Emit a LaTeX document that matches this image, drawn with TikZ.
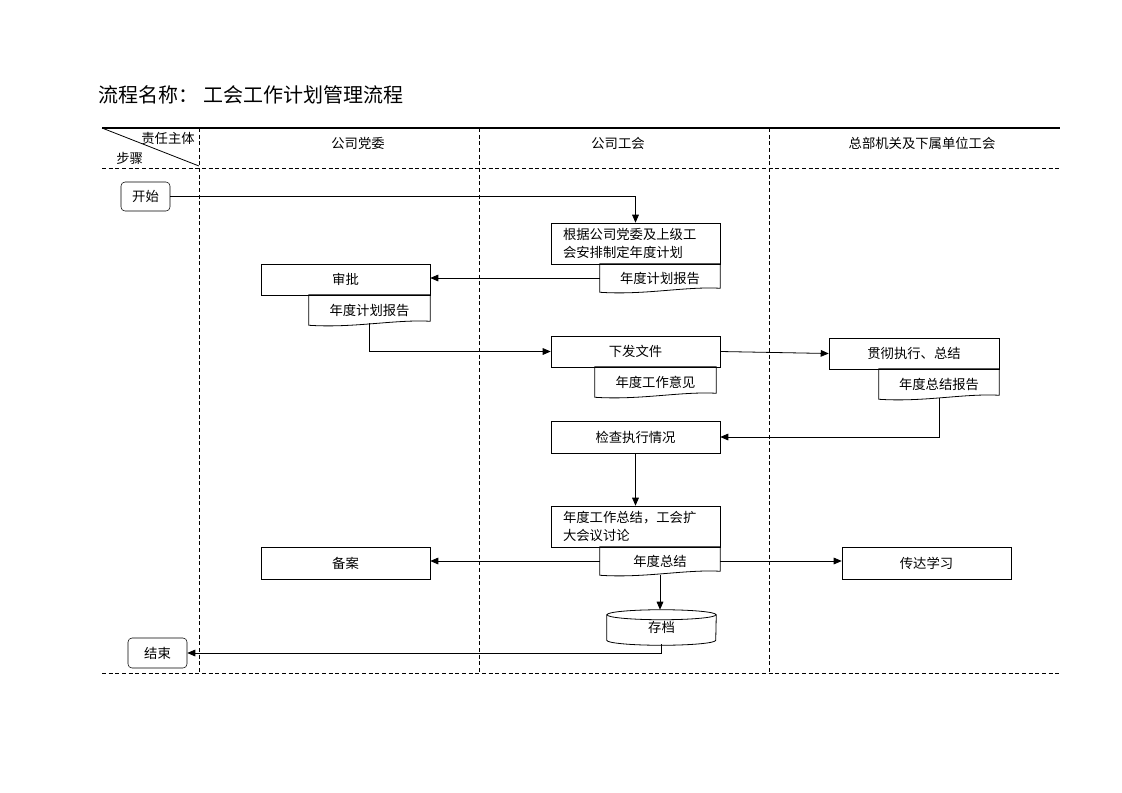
\documentclass[tikz,border=0pt]{standalone}
\usepackage{fontspec}
\newfontfamily\cjk{Noto Sans CJK SC}
\usetikzlibrary{arrows.meta,calc}
\tikzset{
  txt/.style={inner sep=0.75pt,font=\cjk\fontsize{10}{13}\selectfont},
  procbox/.style={txt,draw,rectangle,minimum width=126.75pt,minimum height=23.25pt},
  notebox/.style={procbox,minimum height=30.75pt,text width=108.75pt,inner xsep=9pt,align=left},
  docbox/.style={txt,minimum width=90pt,minimum height=21pt},
  termbox/.style={txt,draw,rounded corners=3pt,minimum width=36.75pt,minimum height=21.75pt},
  flow/.style={line width=0.6pt,-{Triangle[length=6pt,width=5pt]}},
  lane/.style={line width=0.6pt,dash pattern={on 3pt off 2pt}}
}
% document shape with wavy bottom
\newcommand{\docwave}[1]{%
\draw[line width=0.6pt] (#1.north west) -- (#1.north east) -- ($(#1.south east)+(0,-4)$)
  .. controls ($(#1.south east)+(-35,-6)$) and ($(#1.south west)+(45,3)$) .. (#1.south west) -- cycle;}
\begin{document}
\begin{tikzpicture}[x=0.75pt,y=0.75pt,yscale=-1,xscale=1]
\path[use as bounding box] (0,0) rectangle (1122,793);
%Title
\node[txt,anchor=west,font=\cjk\fontsize{15}{18}\selectfont] (title) at (97,95) {流程名称：\hspace{4pt}工会工作计划管理流程};
%Table frame
\draw[line width=1.6pt] (102,128) -- (1060,128);
\draw[lane] (102,168) -- (1060,168);
\draw[lane] (102,673) -- (1060,673);
\draw[lane] (199,128) -- (199,673);
\draw[lane] (479,128) -- (479,673);
\draw[lane] (769,128) -- (769,673);
\draw[line width=0.6pt] (102,128) -- (199,166);
% Text Node
\node[txt,anchor=east] (owner) at (196,138) {责任主体};
\node[txt,anchor=west] (steps) at (115,158) {步骤};
\node[txt] (laneA) at (358,143) {公司党委};
\node[txt] (laneB) at (618,143) {公司工会};
\node[txt] (laneC) at (922,143) {总部机关及下属单位工会};
%Shapes
\node[termbox] (start) at (145.5,196.5) {开始};
\node[notebox] (plan) at (635.5,243.5) {根据公司党委及上级工\\会安排制定年度计划};
\node[docbox] (doc1) at (660,278) {年度计划报告};
\node[procbox] (approve) at (345.5,279.5) {审批};
\node[docbox,minimum width=90.75pt,minimum height=22.5pt] (doc2) at (369.5,310) {年度计划报告};
\node[procbox] (issue) at (635.5,351.5) {下发文件};
\node[docbox,minimum width=90.75pt,minimum height=22.5pt] (doc3) at (655.5,382) {年度工作意见};
\node[procbox,minimum width=127.5pt] (implement) at (914,353.5) {贯彻执行、总结};
\node[docbox,minimum height=22.5pt] (doc4) at (939,384) {年度总结报告};
\node[procbox,minimum height=24pt] (check) at (635.5,437) {检查执行情况};
\node[notebox] (summary) at (635.5,526.5) {年度工作总结，工会扩\\大会议讨论};
\node[docbox] (doc5) at (660,561) {年度总结};
\node[procbox,minimum height=24pt] (record) at (345.5,563) {备案};
\node[procbox,minimum height=24pt] (spread) at (926.5,563) {传达学习};
\node[txt,minimum width=81.75pt,minimum height=26.25pt] (arch) at (661.5,627.5) {存档};
\node[termbox,minimum width=44.25pt,minimum height=22.5pt] (end) at (157.5,653) {结束};
\docwave{doc1}
\docwave{doc2}
\docwave{doc3}
\docwave{doc4}
\docwave{doc5}
%Cylinder
\draw[line width=0.6pt] ($(arch.north)+(0,5)$) ellipse [x radius=54.5, y radius=5];
\draw[line width=0.6pt] ($(arch.north west)+(0,5)$) -- ($(arch.south west)+(0,-5)$)
  arc [start angle=180, end angle=0, x radius=54.5, y radius=5] -- ($(arch.north east)+(0,5)$);
%Straight Lines
\draw[flow] (start.east) -| (plan.north);
\draw[flow] (doc1.west) -- (doc1.west -| approve.east);
\draw[flow] ($(doc2.south)+(0,-2)$) |- (issue.west);
\draw[flow] (issue.east) -- (implement.west);
\draw[flow] ($(doc4.south)+(0,-1)$) |- (check.east);
\draw[flow] (check.south) -- (summary.north);
\draw[flow] (doc5.west) -- (doc5.west -| record.east);
\draw[flow] (doc5.east) -- (doc5.east -| spread.west);
\draw[flow] (doc5.south) -- (doc5.south |- arch.north);
\draw[flow] ($(arch.south)+(0,-1)$) |- (end.east);
\end{tikzpicture}
\end{document}
